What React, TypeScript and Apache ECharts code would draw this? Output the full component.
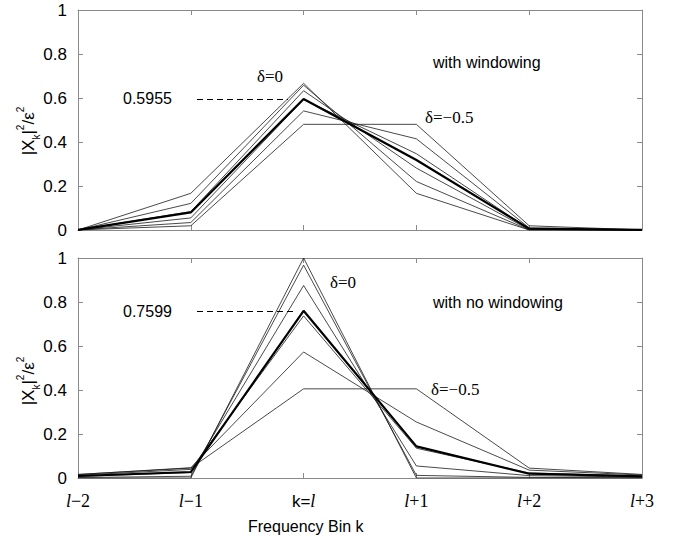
import React, { useEffect, useRef } from 'react';
import * as echarts from 'echarts';

// Frequency bins (x positions 0..5)
const binLabels = ['l−2', 'l−1', 'k=l', 'l+1', 'l+2', 'l+3'];
const binPos = [0, 1, 2, 3, 4, 5];
const deltaNames = ['δ=0', 'δ=−0.1', 'δ=−0.2', 'δ=−0.3', 'δ=−0.4', 'δ=−0.5'];

// With windowing (top panel)
const winD0 = [0, 0.1667, 0.6667, 0.1667, 0, 0];
const winD01 = [0.0001, 0.1209, 0.6581, 0.2205, 0.0003, 0];
const winD02 = [0.0003, 0.0837, 0.633, 0.2814, 0.0014, 0.0001];
const winD03 = [0.0005, 0.0549, 0.5932, 0.3468, 0.0043, 0.0002];
const winD04 = [0.0005, 0.0339, 0.5413, 0.4144, 0.0098, 0.0003];
const winD05 = [0.0004, 0.0192, 0.4803, 0.4803, 0.0192, 0.0004];
const winAvg = [0.0003, 0.0799, 0.5955, 0.3184, 0.0058, 0.0002];
const winPeak = 0.5955;

// With no windowing (bottom panel)
const rectD0 = [0, 0, 1, 0, 0, 0];
const rectD01 = [0.0022, 0.008, 0.9675, 0.0119, 0.0027, 0.0012];
const rectD02 = [0.0072, 0.0243, 0.8751, 0.0547, 0.0108, 0.0045];
const rectD03 = [0.0125, 0.0392, 0.7368, 0.1353, 0.0229, 0.0091];
const rectD04 = [0.0159, 0.0468, 0.5729, 0.2546, 0.0358, 0.0136];
const rectD05 = [0.0162, 0.045, 0.4053, 0.4053, 0.045, 0.0162];
const rectAvg = [0.009, 0.0272, 0.7599, 0.1436, 0.0195, 0.0074];
const rectPeak = 0.7599;

const winSeries = [winD0, winD01, winD02, winD03, winD04, winD05];
const rectSeries = [rectD0, rectD01, rectD02, rectD03, rectD04, rectD05];

const SANS = '"Liberation Sans", Arial, Helvetica, sans-serif';
const SERIF = '"Liberation Serif", "Times New Roman", serif';
const FRAME = '#8a8a8a';

const toPairs = (arr: number[]) => arr.map((v, i) => [binPos[i], v]);

const labelRich = (s: string) => {
  if (s.startsWith('k=')) return '{k|k=}{i|l}';
  return '{i|l}{n|' + s.slice(1) + '}';
};

const yNameRich = {
  b: { fontSize: 17, fontFamily: SANS, fill: '#000', color: '#000', lineHeight: 26 },
  s: { fontSize: 10, fontFamily: SANS, fill: '#000', color: '#000', lineHeight: 26, verticalAlign: 'bottom' },
  p: { fontSize: 10, fontFamily: SANS, fill: '#000', color: '#000', lineHeight: 26, verticalAlign: 'top' },
};
const yName = '{b||X}{s|k}{b||}{p|2}{b|/ε}{p|2}';

function makeXAxis(gridIndex: number, position: 'top' | 'bottom', showLabel: boolean) {
  return {
    type: 'value',
    gridIndex,
    position,
    min: 0,
    max: 5,
    interval: 1,
    axisLine: { show: true, onZero: false, lineStyle: { color: FRAME, width: 1 } },
    axisTick: { show: true, inside: true, length: 5, lineStyle: { color: FRAME } },
    splitLine: { show: false },
    axisLabel: showLabel
      ? {
          show: true,
          margin: 14,
          formatter: (v: number) => labelRich(binLabels[Math.round(v)] ?? ''),
          rich: {
            i: { fontFamily: SERIF, fontStyle: 'italic', fontSize: 18, color: '#000' },
            n: { fontFamily: SERIF, fontSize: 18, color: '#000' },
            k: { fontFamily: SANS, fontSize: 17, color: '#000' },
          },
        }
      : { show: false },
  };
}

function makeYAxis(gridIndex: number, position: 'left' | 'right', showLabel: boolean) {
  return {
    type: 'value',
    gridIndex,
    position,
    min: 0,
    max: 1,
    interval: 0.2,
    axisLine: { show: true, onZero: false, lineStyle: { color: FRAME, width: 1 } },
    axisTick: { show: true, inside: true, length: 5, lineStyle: { color: FRAME } },
    splitLine: { show: false },
    axisLabel: showLabel
      ? { show: true, margin: 11, fontSize: 17, fontFamily: SANS, color: '#000' }
      : { show: false },
  };
}

function thinSeries(data: number[], name: string, xi: number, yi: number) {
  return {
    type: 'line',
    name,
    xAxisIndex: xi,
    yAxisIndex: yi,
    data: toPairs(data),
    symbol: 'none',
    lineStyle: { color: '#1a1a1a', width: 0.8 },
    silent: true,
  };
}

function avgSeries(data: number[], peak: number, xi: number, yi: number, x0: number, x1: number) {
  return {
    type: 'line',
    name: 'average',
    xAxisIndex: xi,
    yAxisIndex: yi,
    data: toPairs(data),
    symbol: 'none',
    lineStyle: { color: '#000', width: 2.2 },
    silent: true,
    z: 3,
    markLine: {
      silent: true,
      symbol: 'none',
      label: { show: false },
      lineStyle: { color: '#000', width: 1, type: [6, 4] },
      data: [[{ coord: [x0, peak] }, { coord: [x1, peak] }]],
    },
  };
}

const txt = (text: string, x: number, y: number, font: string, size: number) => ({
  type: 'text',
  left: x,
  top: y - size / 2 - 1,
  style: { text, fontFamily: font, fontSize: size, fill: '#000' },
  silent: true,
});

const yNameText = (cx: number, cy: number) => ({
  type: 'text',
  x: cx,
  y: cy,
  rotation: Math.PI / 2,
  silent: true,
  style: {
    text: yName,
    rich: yNameRich,
    align: 'center',
    verticalAlign: 'middle',
    fill: '#000',
    fontFamily: SANS,
    fontSize: 17,
  },
});

export default function App() {
  const ref = useRef<HTMLDivElement>(null);
  useEffect(() => {
    if (!ref.current) return;
    const chart = echarts.init(ref.current, null, { renderer: 'svg' });
    const series: any[] = [];
    winSeries.forEach((d, i) => series.push(thinSeries(d, 'win ' + deltaNames[i], 0, 0)));
    series.push(avgSeries(winAvg, winPeak, 0, 0, 1.055, 1.862));
    rectSeries.forEach((d, i) => series.push(thinSeries(d, 'rect ' + deltaNames[i], 2, 2)));
    series.push(avgSeries(rectAvg, rectPeak, 2, 2, 1.055, 1.94));

    chart.setOption({
      animation: false,
      backgroundColor: '#fff',
      grid: [
        { left: 78, top: 10, width: 564, height: 220 },
        { left: 78, top: 258, width: 564, height: 220 },
      ],
      xAxis: [
        makeXAxis(0, 'bottom', false),
        makeXAxis(0, 'top', false),
        makeXAxis(1, 'bottom', true),
        makeXAxis(1, 'top', false),
      ],
      yAxis: [
        makeYAxis(0, 'left', true),
        makeYAxis(0, 'right', false),
        makeYAxis(1, 'left', true),
        makeYAxis(1, 'right', false),
      ],
      series,
      graphic: [
        yNameText(28, 131),
        yNameText(28, 381),
        txt(String(winPeak), 123, 99, SANS, 16),
        txt('δ=0', 257, 77, SERIF, 17),
        txt('δ=−0.5', 425, 118, SERIF, 17),
        txt('with windowing', 433, 63, SANS, 16),
        txt(String(rectPeak), 123, 312, SANS, 16),
        txt('δ=0', 330, 283, SERIF, 17),
        txt('with no windowing', 433, 303, SANS, 16),
        txt('δ=−0.5', 431, 390, SERIF, 17),
        txt('Frequency Bin k', 248, 527, SANS, 16),
      ],
    });
    return () => chart.dispose();
  }, []);
  return (
    <div
      ref={ref}
      style={{ position: 'fixed', left: 0, top: 0, width: 674, height: 539, background: '#fff' }}
    />
  );
}
